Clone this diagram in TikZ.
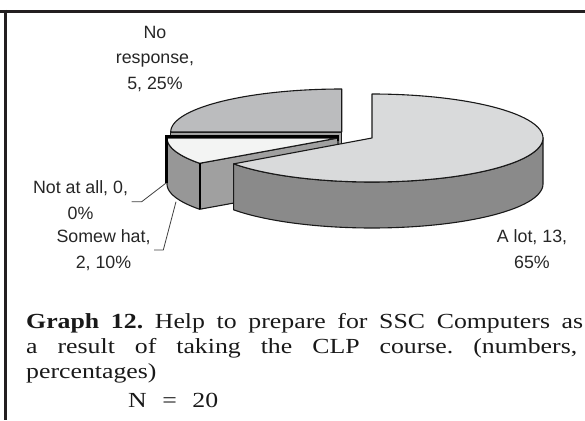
\documentclass[tikz,border=0pt]{standalone}
\usepackage{fontspec}
\setmainfont{Liberation Serif}
\newfontfamily\labfont{Liberation Sans}
\newfontfamily\capfont[FakeStretch=1.2]{Liberation Serif}
\definecolor{framec}{HTML}{231F20}
\definecolor{alottop}{HTML}{D9DADB}
\definecolor{alotside}{HTML}{8A8A8A}
\definecolor{nrtop}{HTML}{BBBCBE}
\definecolor{nrface}{HTML}{A3A3A3}
\definecolor{swtop}{HTML}{F3F4F3}
\definecolor{swside}{HTML}{979797}
\definecolor{swface}{HTML}{A0A0A0}
\tikzset{
  pieline/.style={draw=black!90, line width=1.1pt, line join=round},
  zeroline/.style={draw=black, line width=2.4pt},
  lab/.style={font=\labfont\fontsize{17.8}{25.5}\selectfont, align=center, inner sep=0pt, text=black!85, anchor=base},
  capt/.style={font=\capfont\fontsize{21.5}{25}\selectfont\frenchspacing, inner sep=0pt, anchor=base west, text=black!90},
  leader/.style={draw=black!75, line width=0.8pt},
  framel/.style={draw=framec, line width=3.3pt}
}
\begin{document}
\begin{tikzpicture}[x=1pt,y=-1pt]
\useasboundingbox (0,0) rectangle (585,420);
% frame
\draw[framel] (0,11.7) -- (585,11.7);
\draw[framel] (5.6,10) -- (5.6,420);
% depth
\def\dep{46}
% --- No response slice (center 341.7,132)
\def\nx{341.7}\def\ny{132}
\filldraw[pieline, fill=nrface] (170.7,\ny) rectangle (\nx,{\ny+\dep});
\filldraw[pieline, fill=nrtop] (\nx,\ny) -- plot[domain=180:270,samples=40] ({\nx+171*cos(\x)},{\ny+43*sin(\x)}) -- cycle;
% --- Somewhat slice (center 338,138)
\def\sx{338}\def\sy{138}
\filldraw[pieline, fill=swside] plot[domain=144:180,samples=20] ({\sx+171*cos(\x)},{\sy+43*sin(\x)})
  -- plot[domain=180:144,samples=20] ({\sx+171*cos(\x)},{\sy+\dep+43*sin(\x)}) -- cycle;
\filldraw[pieline, fill=swface] (\sx,\sy) -- ({\sx+171*cos(144)},{\sy+43*sin(144)})
  -- ({\sx+171*cos(144)},{\sy+\dep+43*sin(144)}) -- (\sx,{\sy+\dep}) -- cycle;
\filldraw[pieline, fill=swtop] (\sx,\sy) -- plot[domain=144:180,samples=20] ({\sx+171*cos(\x)},{\sy+43*sin(\x)}) -- cycle;
% zero slice (Not at all) outline
\draw[zeroline] (\sx,141) -- (\sx,136.5) -- (166.3,136.5) -- (166.3,183);
\draw[line width=2pt] ({\sx+171*cos(144)},{\sy+43*sin(144)}) -- ({\sx+171*cos(144)},{\sy+\dep+43*sin(144)});
% --- A lot slice (center 372,138)
\def\ax{372}\def\ay{138}
\filldraw[pieline, fill=alotside] plot[domain=0:144,samples=60] ({\ax+171*cos(\x)},{\ay+44*sin(\x)})
  -- plot[domain=144:0,samples=60] ({\ax+171*cos(\x)},{\ay+\dep+44*sin(\x)}) -- cycle;
\filldraw[pieline, fill=alottop] (\ax,\ay) -- plot[domain=-90:144,samples=90] ({\ax+171*cos(\x)},{\ay+44*sin(\x)}) -- cycle;
% labels (anchor = baseline of last line)
\node[lab] (lnr) at (155,89.3) {No\\response,\\5, 25\%};
\node[lab] (lna) at (80.5,219.3) {Not at all, 0,\\0\%};
\node[lab] (lsw) at (103.5,268) {Somew hat,\\2, 10\%};
\node[lab] (lal) at (532,268.3) {A lot, 13,\\65\%};
% leaders
\coordinate (naS) at (131.7,201.7);
\coordinate (naK) at (141.7,201.7);
\coordinate (naE) at (165.7,183.3);
\coordinate (swS) at (154,250);
\coordinate (swK) at (163.3,250);
\coordinate (swE) at (176,201.7);
\draw[leader] (naS) -- (naK) -- (naE);
\draw[leader] (swS) -- (swK) -- (swE);
% caption
\node[capt] (cap1) at (26,328) {\hbox to 557pt{\textbf{Graph 12.} Help to prepare for SSC Computers as}};
\node[capt] (cap2) at (26,353) {\hbox to 551pt{a result of taking the CLP course. (numbers,}};
\node[capt] (cap3) at (26,378) {percentages)};
\node[capt] (capn) at (128,407) {\hbox to 90pt{N\hfil=\hfil 20}};
\end{tikzpicture}
\end{document}
